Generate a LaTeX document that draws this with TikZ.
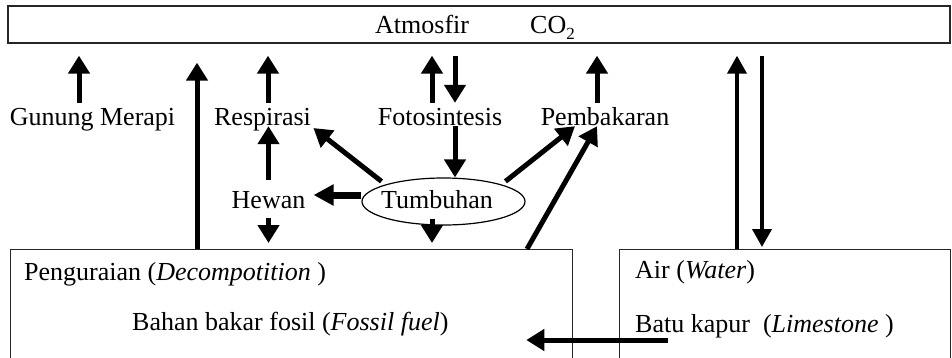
\documentclass[tikz,border=0pt]{standalone}
\usepackage{fontspec}
\setmainfont{Liberation Serif}
\usetikzlibrary{arrows.meta,shapes.geometric}
\begin{document}
\begin{tikzpicture}[x=1pt,y=-1pt,
  font=\fontsize{26}{30}\selectfont,
  lbl/.style={inner sep=0pt, text height=22pt, text depth=1pt},
  boxtxt/.style={inner sep=0pt, anchor=base west},
  frame/.style={draw=black!85, line width=1.3pt, inner sep=0pt},
  arr/.style={line width=5pt, -{Triangle[length=18pt,width=21pt]}},
  arrthin/.style={line width=3.8pt, -{Triangle[length=18pt,width=19pt]}},
  arrthick/.style={line width=7pt, -{Triangle[length=20pt,width=20pt]}},
]
\useasboundingbox (0,0) rectangle (952,357);
\clip (0,0) rectangle (952,357);

% boxes
\node[frame, minimum width=942pt, minimum height=37pt] (atm) at (479,24.5) {};
\node[frame, anchor=north west, minimum width=562pt, minimum height=160pt] (dec) at (10,249) {};
\node[frame, anchor=north west, minimum width=331pt, minimum height=160pt] (wat) at (619,249) {};

% texts in top box
\node[boxtxt] (atmt) at (375,33) {Atmosfir};
\node[boxtxt] (co2) at (530,33) {CO\raisebox{-6pt}{\fontsize{17}{17}\selectfont 2}};

% labels
\node[lbl, anchor=base] (gm) at (92.5,125) {Gunung Merapi};
\node[lbl, anchor=base] (resp) at (262.5,125) {Respirasi};
\node[lbl, anchor=base] (foto) at (440,125) {Fotosintesis};
\node[lbl, anchor=base] (pemb) at (605,125) {Pembakaran};
\node[lbl, anchor=base] (hewan) at (268.5,208) {Hewan};
\node[draw, line width=1.2pt, ellipse, minimum width=163pt, minimum height=47pt, inner sep=0pt] (tumb) at (443.5,201.5) {};
\node[lbl, anchor=base] (tumbt) at (437,208) {Tumbuhan};

% texts in lower boxes
\node[boxtxt] (peng) at (24,280) {Penguraian (\textit{Decompotition} )};
\node[boxtxt] (bahan) at (132,330) {Bahan bakar fosil (\textit{Fossil fuel})};
\node[boxtxt] (air) at (635,278) {Air (\textit{Water})};
\node[boxtxt] (batu) at (635,332) {Batu kapur\ \ (\textit{Limestone} )};

% arrows to the atmosphere
\draw[arr, shorten >=12pt] ([xshift=-13.5pt]gm.north) -- ([xshift=-13.5pt]gm.north |- atm.south);
\draw[arr, shorten >=19pt] ([xshift=187pt]dec.north west) -- ([xshift=187pt]dec.north west |- atm.south);
\draw[arr, shorten >=12pt] ([xshift=5.5pt]resp.north) -- ([xshift=5.5pt]resp.north |- atm.south);
\draw[arr, shorten >=12pt] ([xshift=-8pt]foto.north) -- ([xshift=-8pt]foto.north |- atm.south);
\draw[arr, shorten <=12pt] ([xshift=15pt]foto.north |- atm.south) -- ([xshift=15pt]foto.north);
\draw[arr, shorten >=12pt] ([xshift=-8pt]pemb.north) -- ([xshift=-8pt]pemb.north |- atm.south);
\draw[arrthin, shorten >=12pt] ([xshift=118pt]wat.north west) -- ([xshift=118pt]wat.north west |- atm.south);
\draw[arrthin, shorten <=12pt, shorten >=2pt] ([xshift=143pt]wat.north west |- atm.south) -- ([xshift=143pt]wat.north west);

% middle arrows
\draw[arr, shorten <=6pt] (hewan.north) -- (hewan.north |- resp.south);
\draw[arr, shorten <=9pt, shorten >=6pt] (hewan.south) -- (hewan.south |- dec.north);
\draw[arr] ([xshift=15pt]foto.south) -- ([xshift=15pt]foto.south |- tumb.north);
\draw[arr, shorten <=5pt, shorten >=3pt] (tumb.north west) -- (resp.south east);
\draw[arrthick, shorten >=8pt] ([yshift=6.5pt]tumb.west) -- ([yshift=6.5pt]tumb.west -| hewan.east);
\draw[arr, shorten <=-7pt, shorten >=6pt] ([xshift=-11.5pt]tumb.south) -- ([xshift=-11.5pt]tumb.south |- dec.north);
\draw[arr, shorten <=5pt] (tumb.north east) -- ([xshift=-30pt]pemb.south);
\draw[arr] ([xshift=517pt]dec.north west) -- ([xshift=-8pt]pemb.south);

% limestone to fossil fuel
\coordinate (bs) at (668,340);
\draw[arr, shorten >=-47pt] (bs) -- (bs -| dec.east);
\end{tikzpicture}
\end{document}
